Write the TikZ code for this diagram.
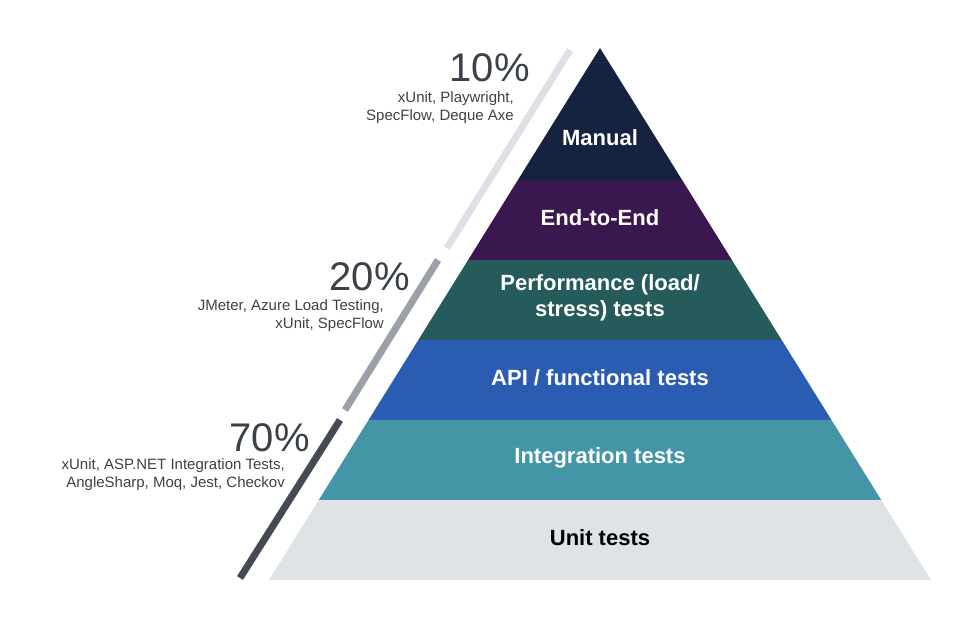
\documentclass[tikz,border=0pt]{standalone}
\usepackage{fontspec}
\setmainfont{Liberation Sans}
\usepackage{tikz}
\usetikzlibrary{positioning}
\definecolor{manualcol}{HTML}{152341}
\definecolor{endcol}{HTML}{3A174E}
\definecolor{perfcol}{HTML}{255B5A}
\definecolor{apicol}{HTML}{2A5DB1}
\definecolor{integcol}{HTML}{4495A6}
\definecolor{unitcol}{HTML}{DEE3E6}
\definecolor{barlight}{HTML}{DDE1E6}
\definecolor{barmid}{HTML}{9CA1A9}
\definecolor{bardark}{HTML}{454B55}
\definecolor{inkcol}{HTML}{3B4149}
\tikzstyle{layer} = [
  text = white, font = \fontsize{22}{26}\selectfont\bfseries,
  align = center
]
\tikzstyle{pct} = [
  anchor = base east, text = inkcol, font = \fontsize{40}{40}\selectfont,
  inner sep = 0
]
\tikzstyle{tools} = [
  anchor = east, align = right, text = inkcol,
  font = \fontsize{15}{18}\selectfont, inner sep = 0
]
\tikzstyle{bar} = [line width = 7pt]

\begin{document}
\begin{tikzpicture}[x = 1pt, y = -1pt]
      \useasboundingbox (0, 0) rectangle (970, 620);
      % pyramid layers, apex (600,48), side slope 0.6222
      \foreach \top/\bot/\col in {48/180/manualcol, 180/260/endcol,
          260/340/perfcol, 340/420/apicol, 420/500/integcol, 500/580/unitcol} {
        \fill [\col] ({600-0.6222*(\top-48)}, \top) -- ({600+0.6222*(\top-48)}, \top)
          -- ({600+0.6222*(\bot-48)}, \bot) -- ({600-0.6222*(\bot-48)}, \bot) -- cycle;
      }
      \node [layer] (manual) at (600, 138) {Manual};
      \node [layer] (endtoend) at (600, 218) {End-to-End};
      \node [layer] (perf) at (600, 298) {Performance (load/\\stress) tests};
      \node [layer] (api) at (600, 378) {API / functional tests};
      \node [layer] (integ) at (600, 458) {Integration tests};
      \node [layer, text = black] (unit) at (600, 538) {Unit tests};

      % side bars
      \draw [bar, barlight] (570, 50) -- (447, 248);
      \draw [bar, barmid] (438, 260) -- (345, 410);
      \draw [bar, bardark] (340, 420) -- (240, 578);

      % shares and tools
      \node [pct] (pct-10) at (530, 82) {10\%};
      \node [tools] (tools-10) at (514, 108) {xUnit, Playwright,\\SpecFlow, Deque Axe};
      \node [pct] (pct-20) at (410, 291) {20\%};
      \node [tools] (tools-20) at (384, 316) {JMeter, Azure Load Testing,\\xUnit, SpecFlow};
      \node [pct] (pct-70) at (310, 451) {70\%};
      \node [tools] (tools-70) at (285, 475) {xUnit, ASP.NET Integration Tests,\\AngleSharp, Moq, Jest, Checkov};
    \end{tikzpicture}
\end{document}
